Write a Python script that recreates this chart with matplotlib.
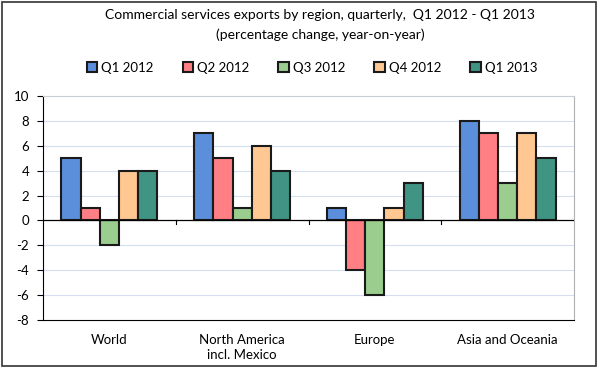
import matplotlib
matplotlib.use("Agg")
import matplotlib.pyplot as plt
from matplotlib.patches import Rectangle
import numpy as np

categories = ["World", "North America\nincl. Mexico", "Europe", "Asia and Oceania"]
series_names = ["Q1 2012", "Q2 2012", "Q3 2012", "Q4 2012", "Q1 2013"]
q1_2012 = [5, 7, 1, 8]
q2_2012 = [1, 5, -4, 7]
q3_2012 = [-2, 1, -6, 3]
q4_2012 = [4, 6, 1, 7]
q1_2013 = [4, 4, 3, 5]
series = [q1_2012, q2_2012, q3_2012, q4_2012, q1_2013]
colors = ["#5B8EDB", "#FF7F84", "#9ACD8E", "#FFC892", "#409484"]
yticks = [-8, -6, -4, -2, 0, 2, 4, 6, 8, 10]

plt.rcParams['font.family'] = ['Lato', 'DejaVu Sans']

fig = plt.figure(figsize=(6.0, 3.71), dpi=100)
fig.patches.append(Rectangle((2/600, 1-366/371), 594/600, 364/371, transform=fig.transFigure,
                             fill=False, edgecolor="#333333", linewidth=1.2, zorder=0))

ax = fig.add_axes([43/600, 1-320/371, 531/600, 224/371])
x = np.arange(len(categories))
bw = 0.145
for i, (vals, c, name) in enumerate(zip(series, colors, series_names)):
    ax.bar(x + (i - 2) * bw, vals, width=bw, color=c, edgecolor="#1a1a1a",
           linewidth=1.5, label=name, zorder=3)

ax.set_xlim(-0.5, len(categories) - 0.5)
ax.set_ylim(-8, 10)
ax.set_yticks(yticks)
ax.set_yticklabels([str(t) for t in yticks], fontsize=9.5)
for t in yticks:
    if t not in (0, -8, 10):
        ax.axhline(t, color="#d5dff0", linewidth=0.8, zorder=1)
ax.axhline(0, color="black", linewidth=0.9, zorder=4)
ax.spines['left'].set_color("black")
ax.spines['bottom'].set_color("black")
ax.spines['top'].set_color("#c8cdd8")
ax.spines['right'].set_color("#b0b0b0")
ax.tick_params(axis='y', length=4, width=0.8, pad=6)
for b in [0.5, 1.5, 2.5]:
    ax.plot([b, b], [0, -0.3], color="black", linewidth=0.8, zorder=4, clip_on=False)
ax.set_xticks(x)
ax.set_xticklabels(categories, fontsize=9.5, linespacing=1.35)
ax.tick_params(axis='x', length=0, pad=10)

fig.text(320/600, 1-15/371, "Commercial services exports by region, quarterly,  Q1 2012 - Q1 2013",
         ha="center", va="center", fontsize=10)
fig.text(320/600, 1-35/371, "(percentage change, year-on-year)",
         ha="center", va="center", fontsize=10)

handles, labels = ax.get_legend_handles_labels()
fig.legend(handles, labels, loc="center", bbox_to_anchor=(312/600, 1-68/371), ncol=5,
           frameon=False, fontsize=9.5, handlelength=0.8, handleheight=0.8,
           handletextpad=0.3, columnspacing=2.2)

fig.savefig("out.png", dpi=100)
